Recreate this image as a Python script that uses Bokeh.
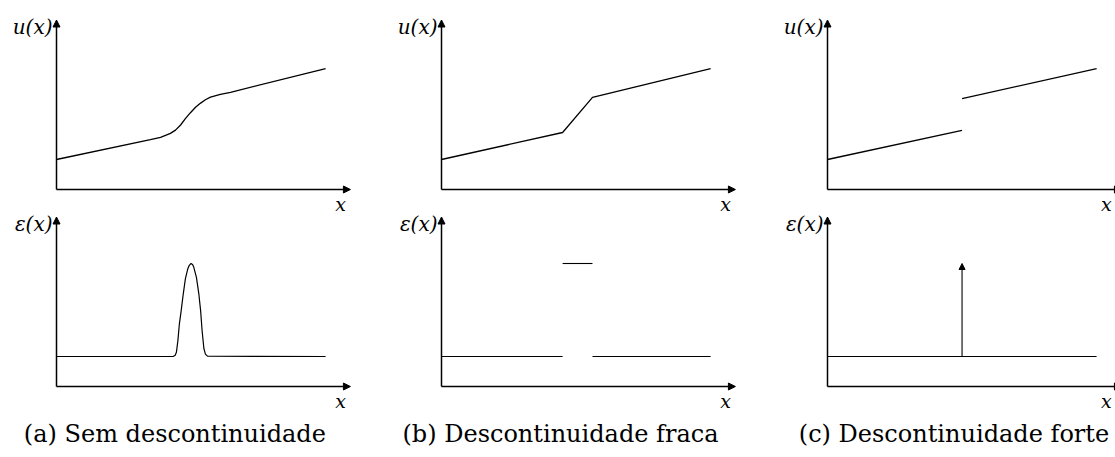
from bokeh.plotting import figure
from bokeh.models import Range1d, Arrow, NormalHead, Label
from bokeh.layouts import row
from bokeh.embed import file_html
from bokeh.resources import INLINE

# ---------------- data ----------------
# (a) Sem descontinuidade : smooth transition of u and a smooth strain peak
xa_u = [0.0, 3.14, 3.48, 3.81, 3.98, 4.15, 4.31, 4.48, 4.65, 4.82, 4.98, 5.15, 5.48, 5.82, 9.0]
ua = [1.0, 1.66, 1.74, 1.87, 1.98, 2.15, 2.36, 2.56, 2.74, 2.88, 2.99, 3.08, 3.17, 3.24, 4.03]
xa_e = [0.0, 3.90, 3.97, 4.01, 4.06, 4.11, 4.17, 4.24, 4.31, 4.39, 4.44, 4.50, 4.55,
        4.59, 4.68, 4.76, 4.82, 4.87, 4.93, 4.98, 5.05, 9.0]
ea = [1.0, 1.0, 1.04, 1.14, 1.53, 2.09, 2.53, 3.09, 3.59, 3.92, 4.04, 4.10, 4.07,
      3.98, 3.64, 3.09, 2.53, 1.86, 1.26, 1.08, 1.01, 1.0]

# (b) Descontinuidade fraca : kinked u, piecewise-constant strain
xb_u = [0.0, 4.05, 5.05, 9.0]
ub = [1.0, 1.90, 3.07, 4.03]
xb_e0 = [0.0, 4.05, 5.05]
xb_e1 = [4.05, 5.05, 9.0]
eb = [1.0, 4.1, 1.0]

# (c) Descontinuidade forte : jump in u, Dirac spike in strain
xc_u0 = [0.0, 4.5]
xc_u1 = [4.5, 9.0]
uc0 = [1.0, 3.03]
uc1 = [1.97, 4.03]
xc_e = [0.0, 9.0]
ec = [1.0, 1.0]
xc_spike = 4.5
ec_spike = 4.1

captions = ["(a) Sem descontinuidade", "(b) Descontinuidade fraca", "(c) Descontinuidade forte"]
caption_x = [3.96, 3.98, 4.23]
xlabel_pos = [9.5, 9.5, 9.33]

# ---------------- geometry ----------------
SX = 29.9   # px per x unit
SY = 30.0   # px per y unit
H = 457
ORIG_LEFT = 56      # px from left of each column to the vertical axis
TOP_ORIG = 189      # px from top to top-panel x axis
BOT_ORIG = 386      # px from top to bottom-panel x axis
AX_X_END = 9.83
AX_Y_END = 5.65

SERIF = "DejaVu Serif"


def make_col(width, xlab):
    x0 = -ORIG_LEFT / SX
    p = figure(width=width, height=H, output_backend="svg", toolbar_location=None,
               x_range=Range1d(x0, x0 + width / SX),
               y_range=Range1d(-(H - TOP_ORIG) / SY, TOP_ORIG / SY),
               x_axis_type=None, y_axis_type=None, min_border=0,
               outline_line_color=None, background_fill_color="white",
               border_fill_color="white")
    p.extra_y_ranges = {"bot": Range1d(-(H - BOT_ORIG) / SY, BOT_ORIG / SY)}
    p.grid.visible = False
    for rn, lab in (("default", "u(x)"), ("bot", "ε(x)")):
        for (xe, ye) in ((AX_X_END, 0.0), (0.0, AX_Y_END)):
            p.add_layout(Arrow(end=NormalHead(size=7, fill_color="black", line_color="black", line_width=1),
                               x_start=0, y_start=0, x_end=xe, y_end=ye,
                               line_width=1.5, line_color="black", y_range_name=rn))
        p.add_layout(Label(x=0, y=AX_Y_END - 0.22, text=lab, x_offset=-4, text_align="right",
                           text_baseline="middle", text_font=SERIF, text_font_style="italic",
                           text_font_size="20px", text_color="black", y_range_name=rn))
        p.add_layout(Label(x=xlab, y=-0.47, text="x", text_align="center",
                           text_baseline="middle", text_font=SERIF, text_font_style="italic",
                           text_font_size="19px", text_color="black", y_range_name=rn))
    return p


pa = make_col(385, xlabel_pos[0])
pa.line(xa_u, ua, line_color="black", line_width=1.3)
pa.line(xa_e, ea, line_color="black", line_width=1.2, y_range_name="bot")

pb = make_col(386, xlabel_pos[1])
pb.line(xb_u, ub, line_color="black", line_width=1.3)
pb.segment(x0=xb_e0, y0=eb, x1=xb_e1, y1=eb, line_color="black", line_width=1.1, y_range_name="bot")

pc = make_col(344, xlabel_pos[2])
pc.segment(x0=xc_u0, y0=uc0, x1=xc_u1, y1=uc1, line_color="black", line_width=1.3)
pc.line(xc_e, ec, line_color="black", line_width=1.1, y_range_name="bot")
pc.add_layout(Arrow(end=NormalHead(size=6, fill_color="black", line_color="black", line_width=1),
                    x_start=xc_spike, y_start=ec[0], x_end=xc_spike, y_end=ec_spike,
                    line_width=1.1, line_color="black", y_range_name="bot"))

for p, cap, cx in zip((pa, pb, pc), captions, caption_x):
    p.add_layout(Label(x=cx, y=-1.57, text=cap, text_align="center", text_baseline="middle",
                       text_font=SERIF, text_font_size="24px", text_color="black",
                       y_range_name="bot"))

layout = row(pa, pb, pc, spacing=0)
open("out.html", "w").write(file_html(layout, INLINE))
